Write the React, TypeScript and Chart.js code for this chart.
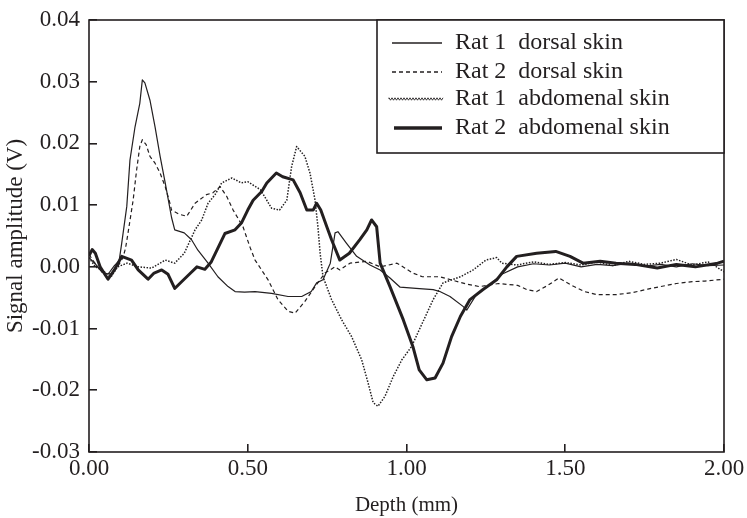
import React, { useEffect, useRef } from "react";
import { Chart, registerables } from "chart.js";

Chart.register(...registerables);

// ---------- data ----------
const seriesLabels = [
  "Rat 1  dorsal skin",
  "Rat 2  dorsal skin",
  "Rat 1  abdomenal skin",
  "Rat 2  abdomenal skin",
];

const xTickValues = [0, 0.5, 1.0, 1.5, 2.0];
const yTickValues = [-0.03, -0.02, -0.01, 0.0, 0.01, 0.02, 0.03, 0.04];

// Rat 1 dorsal skin (thin solid)
const depthR1Dorsal = [
  0, 0.02, 0.04, 0.06, 0.08, 0.095, 0.103, 0.119, 0.129, 0.145, 0.16, 0.168, 0.176,
  0.192, 0.208, 0.224, 0.24, 0.25, 0.26, 0.27, 0.3, 0.323, 0.343, 0.375, 0.406, 0.438,
  0.46, 0.49, 0.523, 0.575, 0.627, 0.67, 0.7, 0.717, 0.737, 0.76, 0.775, 0.784, 0.81,
  0.843, 0.885, 0.917, 0.948, 0.98, 1.03, 1.084, 1.105, 1.137, 1.178, 1.19, 1.22, 1.26,
  1.3, 1.35, 1.4, 1.45, 1.5, 1.55, 1.6, 1.65, 1.7, 1.75, 1.8, 1.85, 1.9, 1.95, 2.0,
];
const signalR1Dorsal = [
  0.0015, 0.0005, -0.0008, -0.0012, 0.0002, 0.001, 0.0038, 0.0098, 0.0173, 0.0227, 0.0265,
  0.0303, 0.0298, 0.027, 0.0227, 0.0179, 0.0136, 0.0108, 0.008, 0.006, 0.0055, 0.0044,
  0.0027, 0.0006, -0.0016, -0.0032, -0.004, -0.0041, -0.004, -0.0043, -0.0048, -0.0048,
  -0.004, -0.0026, -0.0021, 0.0006, 0.0055, 0.0057, 0.0039, 0.0017, 0.0003, -0.0005,
  -0.0018, -0.0033, -0.0035, -0.0037, -0.004, -0.0048, -0.0064, -0.007, -0.0045, -0.003,
  -0.0012, 0.0, 0.0005, 0.0003, 0.0006, 0.0, 0.0004, 0.0002, 0.0006, 0.0001, 0.0004, 0.0,
  0.0005, 0.0002, 0.0003,
];

// Rat 2 dorsal skin (dashed)
const depthR2Dorsal = [
  0, 0.02, 0.04, 0.07, 0.09, 0.107, 0.115, 0.123, 0.139, 0.15, 0.16, 0.168, 0.18, 0.192,
  0.208, 0.224, 0.24, 0.255, 0.26, 0.285, 0.308, 0.334, 0.37, 0.39, 0.413, 0.434, 0.454,
  0.485, 0.507, 0.523, 0.564, 0.595, 0.627, 0.649, 0.68, 0.712, 0.743, 0.775, 0.79, 0.822,
  0.875, 0.917, 0.97, 1.02, 1.05, 1.105, 1.147, 1.19, 1.23, 1.29, 1.35, 1.38, 1.41, 1.445,
  1.48, 1.52, 1.56, 1.6, 1.66, 1.71, 1.76, 1.8, 1.85, 1.9, 1.94, 2.0,
];
const signalR2Dorsal = [
  0.002, 0.0005, -0.0008, -0.0012, 0.0, 0.0015, 0.003, 0.0055, 0.0108, 0.0157, 0.0195,
  0.0206, 0.0198, 0.0179, 0.0168, 0.0152, 0.013, 0.0103, 0.0092, 0.0085, 0.0082, 0.0103,
  0.0117, 0.012, 0.013, 0.0114, 0.0092, 0.0065, 0.0032, 0.0011, -0.0021, -0.0053, -0.0072,
  -0.0075, -0.0056, -0.0032, -0.001, 0.0, -0.0005, 0.0006, 0.0009, 0.0, 0.0006, -0.001,
  -0.0016, -0.0016, -0.0022, -0.0028, -0.0032, -0.0027, -0.003, -0.0037, -0.004, -0.003,
  -0.0018, -0.003, -0.004, -0.0045, -0.0045, -0.0042, -0.0036, -0.0032, -0.0027, -0.0024,
  -0.0023, -0.002,
];

// Rat 1 abdomenal skin (dotted)
const depthR1Abdomen = [
  0, 0.02, 0.04, 0.07, 0.09, 0.12, 0.155, 0.197, 0.24, 0.27, 0.3, 0.334, 0.355, 0.375,
  0.397, 0.418, 0.45, 0.48, 0.5, 0.54, 0.575, 0.6, 0.623, 0.638, 0.654, 0.68, 0.696, 0.712,
  0.721, 0.728, 0.737, 0.764, 0.796, 0.827, 0.859, 0.879, 0.895, 0.91, 0.932, 0.958, 0.985,
  1.016, 1.05, 1.084, 1.115, 1.17, 1.21, 1.25, 1.284, 1.3, 1.347, 1.4, 1.45, 1.5, 1.55, 1.6,
  1.65, 1.7, 1.75, 1.8, 1.85, 1.9, 1.95, 1.97, 2.0,
];
const signalR1Abdomen = [
  0.0015, 0.0, -0.0005, -0.0016, 0.0, 0.0006, 0.0, -0.0002, 0.0011, 0.0006, 0.0022, 0.006,
  0.0076, 0.0103, 0.0117, 0.0136, 0.0144, 0.0136, 0.0138, 0.0125, 0.0095, 0.0092, 0.0108,
  0.0162, 0.0195, 0.0179, 0.0152, 0.0108, 0.0065, 0.0022, -0.0016, -0.0053, -0.0086,
  -0.0113, -0.0151, -0.0188, -0.022, -0.0226, -0.021, -0.0178, -0.0151, -0.0129, -0.0091,
  -0.0053, -0.0026, -0.0016, -0.0005, 0.0011, 0.0015, 0.0006, 0.0003, 0.0008, 0.0004,
  0.0007, 0.0003, 0.0008, 0.0002, 0.0009, 0.0004, 0.0006, 0.0012, 0.0003, 0.0008, 0.0002,
  -0.0008,
];

// Rat 2 abdomenal skin (thick solid)
const depthR2Abdomen = [
  0, 0.01, 0.02, 0.035, 0.06, 0.08, 0.103, 0.134, 0.155, 0.186, 0.205, 0.229, 0.249, 0.27,
  0.29, 0.32, 0.34, 0.365, 0.385, 0.428, 0.46, 0.48, 0.5, 0.517, 0.544, 0.56, 0.59, 0.61,
  0.643, 0.665, 0.686, 0.706, 0.717, 0.73, 0.749, 0.764, 0.79, 0.82, 0.853, 0.875, 0.89,
  0.906, 0.917, 0.948, 0.99, 1.02, 1.04, 1.064, 1.09, 1.115, 1.142, 1.17, 1.2, 1.24, 1.284,
  1.316, 1.347, 1.41, 1.47, 1.515, 1.556, 1.61, 1.66, 1.72, 1.79, 1.85, 1.91, 1.98, 2.0,
];
const signalR2Abdomen = [
  0.0018, 0.0028, 0.0022, 0.0, -0.002, -0.0005, 0.0017, 0.0011, -0.0005, -0.002, -0.001,
  -0.0005, -0.0012, -0.0035, -0.0025, -0.001, 0.0, -0.0004, 0.0008, 0.0054, 0.006, 0.0071,
  0.0092, 0.0108, 0.0122, 0.0136, 0.0152, 0.0146, 0.0141, 0.012, 0.0092, 0.0092, 0.0103,
  0.0092, 0.0065, 0.0044, 0.0011, 0.0022, 0.0044, 0.006, 0.0076, 0.0065, 0.0006, -0.0032,
  -0.0086, -0.0129, -0.0167, -0.0183, -0.018, -0.0156, -0.0113, -0.008, -0.0053, -0.0037,
  -0.0021, 0.0, 0.0017, 0.0022, 0.0025, 0.0017, 0.0006, 0.0009, 0.0006, 0.0004, -0.0002,
  0.0004, 0.0, 0.0006, 0.0009,
];

// ---------- styling ----------
const INK = "#231f20";
const FONT = "'Liberation Serif', 'Times New Roman', serif";

function toPoints(xs: number[], ys: number[]) {
  return xs.map((x, i) => ({ x, y: ys[i] }));
}

const frameAndLegend = {
  id: "frameAndLegend",
  afterDraw(chart: any) {
    const { ctx, chartArea: a } = chart;
    ctx.save();
    ctx.setLineDash([]);
    ctx.strokeStyle = INK;
    ctx.lineWidth = 1.6;
    ctx.strokeRect(a.left, a.top, a.right - a.left, a.bottom - a.top);

    // legend box
    const bx = 377;
    const by = a.top;
    const bw = a.right - bx;
    const bh = 133;
    ctx.fillStyle = "#ffffff";
    ctx.fillRect(bx, by, bw, bh);
    ctx.lineWidth = 1.6;
    ctx.strokeRect(bx, by, bw, bh);

    const rowY = [43, 72, 99, 128];
    const x0 = 392;
    const x1 = 442;
    ctx.font = `24px ${FONT}`;
    ctx.textBaseline = "middle";
    ctx.textAlign = "left";
    seriesLabels.forEach((label, i) => {
      const y = rowY[i];
      ctx.strokeStyle = INK;
      ctx.beginPath();
      if (i === 0) {
        ctx.lineWidth = 1.3;
        ctx.setLineDash([]);
        ctx.moveTo(x0, y);
        ctx.lineTo(x1, y);
      } else if (i === 1) {
        ctx.lineWidth = 1.3;
        ctx.setLineDash([4, 3]);
        ctx.moveTo(x0, y);
        ctx.lineTo(x1, y);
      } else if (i === 2) {
        ctx.lineWidth = 0.9;
        ctx.setLineDash([]);
        ctx.moveTo(x0 - 3, y);
        for (let x = x0 - 3, k = 0; x <= x1 + 2; x += 1.5, k++) {
          ctx.lineTo(x, y + (k % 2 === 0 ? -1.2 : 1.2));
        }
      } else {
        ctx.lineWidth = 3.4;
        ctx.setLineDash([]);
        ctx.moveTo(x0 + 2, y);
        ctx.lineTo(x1, y);
      }
      ctx.stroke();
      ctx.setLineDash([]);
      ctx.fillStyle = INK;
      ctx.fillText(label, 455, y);
    });
    ctx.restore();
  },
};

export default function App() {
  const canvasRef = useRef<HTMLCanvasElement | null>(null);

  useEffect(() => {
    const canvas = canvasRef.current;
    if (!canvas) return;
    const common = {
      pointRadius: 0,
      pointHoverRadius: 0,
      tension: 0,
      fill: false,
      borderColor: INK,
      backgroundColor: INK,
      borderCapStyle: "butt" as const,
      borderJoinStyle: "round" as const,
    };
    const chart = new Chart(canvas, {
      type: "line",
      data: {
        datasets: [
          {
            ...common,
            label: seriesLabels[0],
            data: toPoints(depthR1Dorsal, signalR1Dorsal),
            borderWidth: 1.2,
          },
          {
            ...common,
            label: seriesLabels[1],
            data: toPoints(depthR2Dorsal, signalR2Dorsal),
            borderWidth: 1.2,
            borderDash: [4, 3],
          },
          {
            ...common,
            label: seriesLabels[2],
            data: toPoints(depthR1Abdomen, signalR1Abdomen),
            borderWidth: 1.5,
            borderDash: [1.5, 1.5],
          },
          {
            ...common,
            label: seriesLabels[3],
            data: toPoints(depthR2Abdomen, signalR2Abdomen),
            borderWidth: 3,
          },
        ],
      },
      options: {
        responsive: false,
        animation: false,
        events: [],
        layout: { padding: { top: 20, right: 23, left: 0, bottom: 0 } },
        plugins: {
          legend: { display: false },
          tooltip: { enabled: false },
        },
        scales: {
          x: {
            type: "linear",
            min: 0,
            max: 2,
            afterBuildTicks: (s: any) => {
              s.ticks = xTickValues.map((v) => ({ value: v }));
            },
            afterFit: (s: any) => {
              s.height = 66;
              s.paddingLeft = 0;
              s.paddingRight = 0;
            },
            border: { display: false },
            grid: {
              drawOnChartArea: false,
              drawTicks: true,
              tickLength: -8,
              color: INK,
              lineWidth: 1.6,
            },
            ticks: {
              color: INK,
              padding: 11,
              maxRotation: 0,
              font: { family: FONT, size: 23 },
              callback: (v: any) => Number(v).toFixed(2),
            },
            title: {
              display: true,
              text: "Depth (mm)",
              color: INK,
              font: { family: FONT, size: 21 },
              padding: { top: 0, bottom: 0 },
            },
          },
          y: {
            type: "linear",
            min: -0.03,
            max: 0.04,
            afterBuildTicks: (s: any) => {
              s.ticks = yTickValues.map((v) => ({ value: v }));
            },
            afterFit: (s: any) => {
              s.width = 89;
              s.paddingTop = 0;
              s.paddingBottom = 0;
            },
            border: { display: false },
            grid: {
              drawOnChartArea: false,
              drawTicks: true,
              tickLength: -8,
              color: INK,
              lineWidth: 1.6,
            },
            ticks: {
              color: INK,
              padding: 17,
              font: { family: FONT, size: 23 },
              callback: (v: any) => Number(v).toFixed(2),
            },
            title: {
              display: true,
              text: "Signal amplitude (V)",
              color: INK,
              font: { family: FONT, size: 23 },
              padding: { top: 2, bottom: 0 },
            },
          },
        },
      },
      plugins: [frameAndLegend],
    });
    return () => chart.destroy();
  }, []);

  return (
    <div style={{ position: "absolute", left: 0, top: 0, width: 747, height: 518, background: "#fff" }}>
      <canvas ref={canvasRef} width={747} height={518} style={{ display: "block", width: 747, height: 518 }} />
    </div>
  );
}
